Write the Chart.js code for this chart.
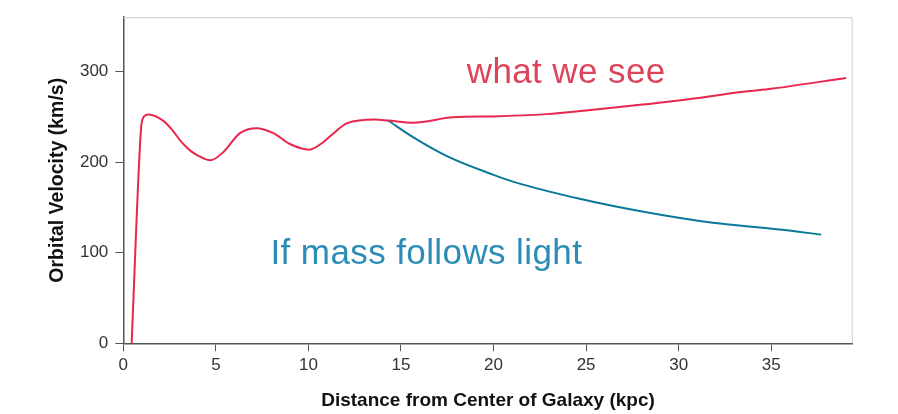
<!DOCTYPE html>
<html>
<head>
<meta charset="utf-8">
<script src="https://cdn.jsdelivr.net/npm/chart.js@4/dist/chart.umd.min.js"></script>
<style>
  html, body { margin: 0; padding: 0; background: #fff; }
  #wrap { width: 898px; height: 414px; position: relative; }
</style>
</head>
<body>
<div id="wrap"><canvas id="c"></canvas></div>
<script>
// observed rotation curve (kpc, km/s)
const seenX = [0.45, 0.95, 1.05, 1.35, 2.2, 2.7, 3.15, 3.6, 4.05, 4.7, 5.4, 6.3, 7.2, 8.1, 9.0, 10.05, 10.8, 11.25, 12.1, 13.6, 14.3, 15.65, 17.8, 20, 22.85, 25, 28.25, 30, 33.6, 35, 39.04];
const seenY = [0, 235, 248, 252.5, 245, 234, 222, 213, 207, 202, 211, 232, 237.5, 232, 220, 213.8, 222, 230, 243, 247, 246, 243.5, 249.5, 250.5, 253, 257, 264, 268, 278, 281, 293];

// expected curve if mass followed light
const lightX = [14.3, 15.65, 17.45, 20, 21.05, 24.65, 28.25, 31.84, 35.44, 37.7];
const lightY = [246, 227.6, 207, 186, 178.5, 159.5, 144.6, 133, 125.6, 120];

const xTicks = [0, 5, 10, 15, 20, 25, 30, 35];
const yTicks = [0, 100, 200, 300];

const FONT = "'Liberation Sans', Arial, Helvetica, sans-serif";

const toPoints = (xs, ys) => xs.map((x, i) => ({ x: x, y: ys[i] }));

// light frame on top/right, and the two curve labels
const framePlugin = {
    id: 'frame',
    beforeDatasetsDraw(chart) {
        const { ctx, chartArea: a } = chart;
        ctx.save();
        ctx.strokeStyle = '#cccccc';
        ctx.lineWidth = 1;
        ctx.beginPath();
        ctx.moveTo(a.left, a.top + 0.5);
        ctx.lineTo(a.right - 0.5, a.top + 0.5);
        ctx.lineTo(a.right - 0.5, a.bottom);
        ctx.stroke();
        ctx.restore();
    },
    afterDatasetsDraw(chart, args, opts) {
        const { ctx, scales } = chart;
        ctx.save();
        ctx.font = '35px ' + FONT;
        ctx.letterSpacing = '0.4px';
        ctx.textBaseline = 'alphabetic';
        ctx.textAlign = 'left';
        for (const l of opts.labels) {
            ctx.fillStyle = l.color;
            ctx.fillText(l.text, scales.x.getPixelForValue(l.x), scales.y.getPixelForValue(l.y));
        }
        ctx.restore();
    }
};

new Chart(document.getElementById('c'), {
    type: 'line',
    data: {
        datasets: [
            {
                label: 'what we see',
                data: toPoints(seenX, seenY),
                borderColor: '#e8274c',
                borderWidth: 2,
                pointRadius: 0,
                fill: false,
                cubicInterpolationMode: 'monotone'
            },
            {
                label: 'If mass follows light',
                data: toPoints(lightX, lightY),
                borderColor: '#0a789a',
                borderWidth: 2,
                pointRadius: 0,
                fill: false,
                cubicInterpolationMode: 'monotone'
            }
        ]
    },
    options: {
        responsive: true,
        maintainAspectRatio: false,
        animation: false,
        layout: { padding: { left: 0, top: 14.5, right: 45.3, bottom: 0 } },
        plugins: {
            legend: { display: false },
            tooltip: { enabled: false },
            frame: {
                labels: [
                    { text: 'what we see', x: 18.55, y: 287, color: '#dc4459' },
                    { text: 'If mass follows light', x: 7.95, y: 88, color: '#2b8db6' }
                ]
            }
        },
        scales: {
            x: {
                type: 'linear',
                min: 0,
                max: 39.4,
                afterFit(s) { s.height = 70.7; },
                afterBuildTicks(s) { s.ticks = xTicks.map(v => ({ value: v })); },
                grid: { display: true, drawOnChartArea: false, drawTicks: true, tickLength: 8, tickColor: '#555' },
                border: { display: true, color: '#555', width: 1.5 },
                ticks: { color: '#333', padding: 4, font: { family: FONT, size: 17 }, maxRotation: 0 },
                title: {
                    display: true,
                    text: 'Distance from Center of Galaxy (kpc)',
                    color: '#111',
                    font: { family: FONT, size: 19, weight: 'bold' },
                    padding: { top: 0, bottom: 1.5 }
                }
            },
            y: {
                type: 'linear',
                min: 0,
                max: 360,
                afterFit(s) { s.width = 123.3; },
                afterBuildTicks(s) { s.ticks = yTicks.map(v => ({ value: v })); },
                grid: { display: true, drawOnChartArea: false, drawTicks: true, tickLength: 8, tickColor: '#555' },
                border: { display: true, color: '#555', width: 1.5 },
                ticks: { color: '#333', padding: 7, font: { family: FONT, size: 17 } },
                title: {
                    display: true,
                    text: 'Orbital Velocity (km/s)',
                    color: '#111',
                    font: { family: FONT, size: 19.5, weight: 'bold' },
                    padding: { top: 45.5, bottom: 0 }
                }
            }
        }
    },
    plugins: [framePlugin]
});
</script>
</body>
</html>
